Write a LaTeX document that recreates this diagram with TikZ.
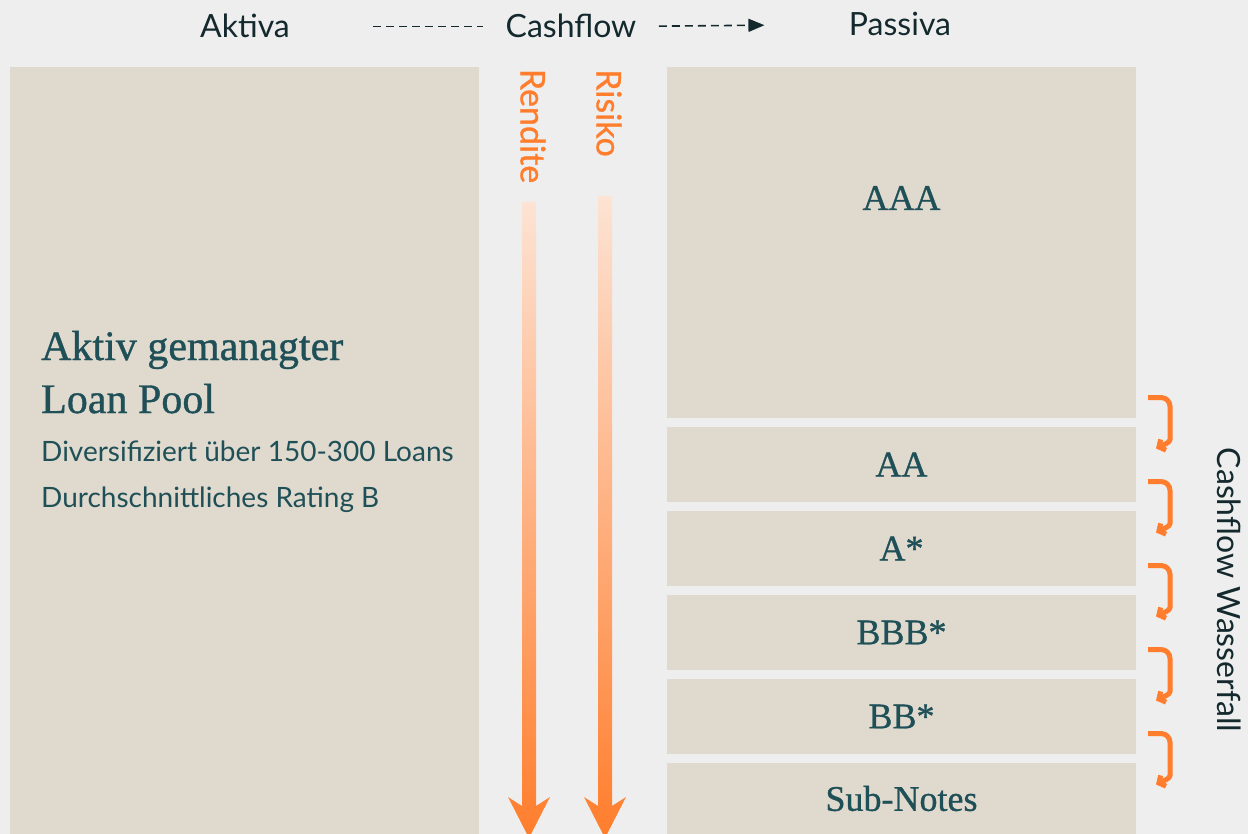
\documentclass[tikz,border=0pt]{standalone}
\usepackage{fontspec}
\setmainfont{Liberation Serif}
\setsansfont{Lato}
\newfontfamily\gradefont[FakeBold=0.9]{Liberation Serif}
\newfontfamily\sidefont[FakeBold=0.8]{Lato}
\usetikzlibrary{positioning,calc,arrows.meta}
\definecolor{bgrey}{HTML}{EEEEEE}
\definecolor{sand}{HTML}{E0D9CE}
\definecolor{deepteal}{HTML}{1F5057}
\definecolor{inkdark}{HTML}{14292E}
\definecolor{flame}{HTML}{FF7D2C}
\definecolor{peach}{HTML}{FDE3D4}
\tikzset{
	tranche/.style={fill=sand, minimum width=469pt, minimum height=75pt, inner sep=0pt, outer sep=0pt, text=deepteal, font=\gradefont\fontsize{36}{40}\selectfont},
	toplabel/.style={text=inkdark, font=\sffamily\fontsize{32}{36}\selectfont},
	sidelabel/.style={text=flame, rotate=-90, font=\sidefont\fontsize{34}{38}\selectfont},
	poolhead/.style={text=deepteal, inner sep=0pt, anchor=base west, font=\gradefont\fontsize{42}{46}\selectfont},
	pooltext/.style={text=deepteal, inner sep=0pt, anchor=base west, font=\sffamily\fontsize{28}{32}\selectfont},
	flowline/.style={draw=inkdark, line width=1.6pt, dash pattern=on 8pt off 5pt},
	wfarrow/.style={draw=flame, line width=5pt, rounded corners=9pt, -{Straight Barb[length=5pt,width=12pt]}},
}

\begin{document}
\begin{tikzpicture}[x=1pt,y=-1pt]
	\fill[bgrey] (0,0) rectangle (1248,834);
	\clip (0,0) rectangle (1248,834);
	\node[toplabel, anchor=base] (aktiva) at (245,38) {Aktiva};
	\node[toplabel, anchor=base] (cash) at (571,38) {Cashflow};
	\node[toplabel, anchor=base] (passiva) at (900,36) {Passiva};
	\draw[flowline, shorten <=80pt, shorten >=19pt] (aktiva.east) -- (cash.west);
	\draw[flowline, shorten <=19pt, shorten >=81pt, -{Triangle[length=16pt,width=13pt]}] (cash.east) -- (passiva.west);
	\node[tranche, anchor=north west, minimum height=767pt] (pool) at (10,67) {};
	\node[poolhead] (poola) at (41,360) {Aktiv gemanagter};
	\node[poolhead] (poolb) at (41,413) {Loan Pool};
	\node[pooltext] (div) at (41,461) {Diversifiziert über 150-300 Loans};
	\node[pooltext] (rating) at (41,507) {Durchschnittliches Rating B};
	\node[sidelabel] (rendite) at (533,126) {Rendite};
	\node[sidelabel] (risiko) at (609,113) {Risiko};
	\shade[top color=peach, bottom color=flame] (522,202) -- (536,202) -- (536,806) -- (550,797) -- (529,838) -- (508,797) -- (522,806) -- cycle;
	\shade[top color=peach, bottom color=flame] (598,196) -- (612,196) -- (612,806) -- (626,797) -- (605,838) -- (584,797) -- (598,806) -- cycle;
	\node[tranche, anchor=north west, minimum height=351pt] (aaa) at (667,67) {};
	\node[tranche, fill=none] (aaalbl) at ($(aaa.north)+(0,131)$) {AAA};
	\node[tranche, below=9pt of aaa] (aa) {AA};
	\node[tranche, below=9pt of aa] (aplus) {A*};
	\node[tranche, below=9pt of aplus] (bbb) {BBB*};
	\node[tranche, below=9pt of bbb] (bb) {BB*};
	\node[tranche, below=9pt of bb, minimum height=71pt] (sub) {Sub-Notes};
	\foreach \a/\b in {aaa/aa, aa/aplus, aplus/bbb, bbb/bb, bb/sub}{
		\coordinate (gap) at ($(\a.south east)!0.5!(\b.north east)$);
		\draw[wfarrow] ($(gap)+(12,-25)$) -- ($(gap)+(34,-25)$) -- ($(gap)+(34,8)$) .. controls ($(gap)+(34,20)$) and ($(gap)+(28,22)$) .. ($(gap)+(20,26)$);
	}
	\node[toplabel, rotate=-90] (wasser) at (1229,590) {Cashflow Wasserfall};
\end{tikzpicture}
\end{document}
